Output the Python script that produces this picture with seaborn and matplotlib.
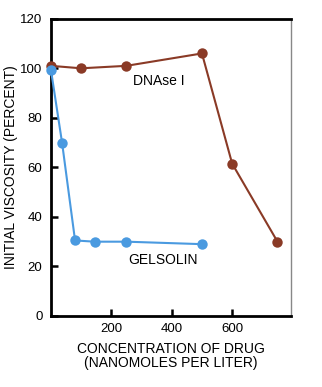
import matplotlib
matplotlib.use("Agg")
import matplotlib.pyplot as plt
import seaborn as sns
import pandas as pd

# Viscosity of actin solutions versus drug concentration
dnase_conc = [0, 100, 250, 500, 600, 750]
dnase_visc = [101, 100, 101, 106, 61.5, 30]
gelsolin_conc = [0, 37, 80, 145, 250, 500]
gelsolin_visc = [99.5, 70, 30.5, 30, 30, 29]
y_ticks = [0, 20, 40, 60, 80, 100, 120]
x_ticks = [200, 400, 600]

sns.set_theme(style="white")
plt.rcParams["font.family"] = ["Liberation Sans", "DejaVu Sans"]
plt.rcParams["text.color"] = "black"
plt.rcParams["axes.labelcolor"] = "black"

df = pd.concat([
    pd.DataFrame({"conc": dnase_conc, "visc": dnase_visc, "drug": "DNAse I"}),
    pd.DataFrame({"conc": gelsolin_conc, "visc": gelsolin_visc, "drug": "GELSOLIN"}),
])

fig = plt.figure(figsize=(3.22, 3.87), dpi=100)
ax = fig.add_axes([0.158, 0.1835, 0.746, 0.768])

palette = {"DNAse I": "#8a3a26", "GELSOLIN": "#4a9ae0"}
sns.lineplot(data=df, x="conc", y="visc", hue="drug", palette=palette,
             marker="o", markersize=7.5, markeredgewidth=0, linewidth=1.5,
             sort=False, legend=False, ax=ax, clip_on=False, zorder=3)

ax.set_xlim(0, 795)
ax.set_ylim(0, 120)
ax.set_xticks(x_ticks)
ax.set_yticks(y_ticks)
ax.tick_params(axis="both", direction="in", length=5, width=1.8, colors="black",
               labelsize=9.5, pad=5, left=True, bottom=True)
ax.tick_params(axis="y", pad=6)

for side in ["left", "bottom", "top"]:
    ax.spines[side].set_color("black")
    ax.spines[side].set_linewidth(2)
ax.spines["right"].set_color("#888888")
ax.spines["right"].set_linewidth(1)

ax.set_xlabel("CONCENTRATION OF DRUG\n(NANOMOLES PER LITER)", fontsize=10,
              labelpad=5, linespacing=1.05)
ax.set_ylabel("INITIAL VISCOSITY (PERCENT)", fontsize=10, labelpad=2)

ax.text(358, 95, "DNAse I", fontsize=10, ha="center", va="center", color="black")
ax.text(372, 22.5, "GELSOLIN", fontsize=10, ha="center", va="center", color="black")

fig.savefig("out.png", dpi=100)
